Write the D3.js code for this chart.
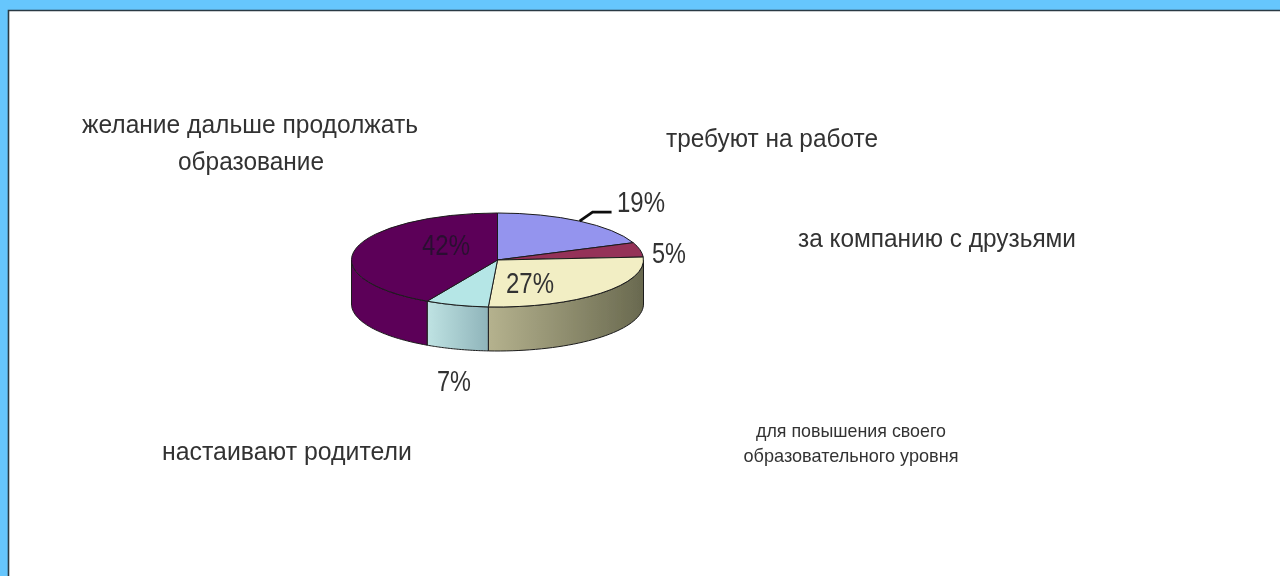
<!DOCTYPE html>
<html>
<head>
<meta charset="utf-8">
<script src="https://cdn.jsdelivr.net/npm/d3@7"></script>
<style>
  html, body { margin: 0; padding: 0; background: #fff; overflow: hidden; }
  text { font-family: "Liberation Sans", Arial, sans-serif; }
</style>
</head>
<body>
<svg id="chart" width="1280" height="576"></svg>
<script>
// data, clockwise from 12 o'clock
const categories = [
  "требуют на работе",
  "за компанию с друзьями",
  "для повышения своего образовательного уровня",
  "настаивают родители",
  "желание дальше продолжать образование"
];
const values = [19, 5, 27, 7, 42];

// colours of each slice: top face, wall gradient start and end
const topColors = ["#9494ee", "#953059", "#f2eec4", "#b5e6e6", "#5c0058"];
const wallFrom = ["#6f6fb0", "#6f2444", "#b5b28e", "#bfe3e3", "#5c0058"];
const wallTo = ["#6f6fb0", "#6f2444", "#69694f", "#8fb4ba", "#5c0058"];

// category captions, one entry per line
const captionLines = [
  [{ t: "требуют на работе", x: 772, y: 147, w: 212, s: 25.5 }],
  [{ t: "за компанию с друзьями", x: 937, y: 247, w: 278, s: 25.5 }],
  [{ t: "для повышения своего", x: 851, y: 437, w: 190, s: 19 },
   { t: "образовательного уровня", x: 851, y: 462, w: 215, s: 19 }],
  [{ t: "настаивают родители", x: 287, y: 460, w: 250, s: 25.5 }],
  [{ t: "желание дальше продолжать", x: 250, y: 133, w: 336, s: 25.5 },
   { t: "образование", x: 251, y: 170, w: 146, s: 25.5 }]
];
const pctPos = [[641, 212], [669, 263], [530, 293], [454, 391], [446, 255]];

const svg = d3.select("#chart");
const width = 1280, height = 576;

const defs = svg.append("defs");
const blur = defs.append("filter").attr("id", "soft");
blur.append("feGaussianBlur").attr("stdDeviation", 0.5);

// slide background + frame
svg.append("rect").attr("width", width).attr("height", height).attr("fill", "#66c6fd");
svg.append("rect").attr("x", 8).attr("y", 10).attr("width", width - 8).attr("height", height - 10)
  .attr("fill", "#fff");
svg.append("path").attr("d", "M8.5,576V10.5H1280")
  .attr("fill", "none").attr("stroke", "#2a3a44").attr("stroke-width", 1.6);

const cx = 497.5, cy = 260, rx = 146, ry = 47, depth = 44;

const pie = d3.pie().sort(null).value(d => d);
const slices = pie(values);

const chart = svg.append("g").attr("filter", "url(#soft)");

// point on the rim for a pie angle
const rim = (a, dy) => [cx + rx * Math.sin(a), cy - ry * Math.cos(a) + dy];

// gradients for the walls
slices.forEach((s, i) => {
  const g = defs.append("linearGradient").attr("id", "wall" + i)
    .attr("gradientUnits", "userSpaceOnUse")
    .attr("x1", rim(Math.min(s.endAngle, 1.5 * Math.PI), 0)[0]).attr("y1", 0)
    .attr("x2", rim(Math.max(s.startAngle, Math.PI / 2), 0)[0]).attr("y2", 0);
  g.append("stop").attr("offset", 0).attr("stop-color", wallFrom[i]);
  g.append("stop").attr("offset", 1).attr("stop-color", wallTo[i]);
});

// walls, only the front half shows
const edge = "#1c1c1c";
slices.forEach((s, i) => {
  const a0 = Math.max(s.startAngle, Math.PI / 2);
  const a1 = Math.min(s.endAngle, 1.5 * Math.PI);
  if (a1 <= a0) return;
  const steps = d3.range(0, 41).map(k => a0 + (a1 - a0) * k / 40);
  const pts = steps.map(a => rim(a, 0)).concat(steps.slice().reverse().map(a => rim(a, depth)));
  chart.append("path")
    .attr("d", d3.line()(pts) + "Z")
    .attr("fill", "url(#wall" + i + ")")
    .attr("stroke", edge).attr("stroke-width", 1);
});

// top faces
const arc = d3.arc().innerRadius(0).outerRadius(rx);
chart.append("g")
  .attr("transform", `translate(${cx},${cy}) scale(1,${ry / rx})`)
  .selectAll("path")
  .data(slices)
  .enter()
  .append("path")
  .attr("d", arc)
  .attr("fill", (d, i) => topColors[i])
  .attr("stroke", edge)
  .attr("stroke-width", 1)
  .attr("vector-effect", "non-scaling-stroke");

// leader line of the 19% label
const lead = rim(slices[0].startAngle + 0.5 * (slices[0].endAngle - slices[0].startAngle), 0);
chart.append("path")
  .attr("d", d3.line()([lead, [lead[0] + 13, lead[1] - 9], [lead[0] + 32, lead[1] - 9]]))
  .attr("fill", "none").attr("stroke", "#111").attr("stroke-width", 2.8);

// percent labels
chart.selectAll(".pct")
  .data(slices)
  .enter()
  .append("text")
  .attr("class", "pct")
  .attr("x", (d, i) => pctPos[i][0])
  .attr("y", (d, i) => pctPos[i][1])
  .attr("text-anchor", "middle")
  .attr("font-size", 29)
  .attr("fill", (d, i) => i === 4 ? "#2a1030" : "#333")
  .attr("textLength", d => d.value >= 10 ? 48 : 34)
  .attr("lengthAdjust", "spacingAndGlyphs")
  .text(d => d.value + "%");

// captions
const caps = svg.append("g").attr("filter", "url(#soft)");
captionLines.forEach(lines => lines.forEach(l => {
  caps.append("text")
    .attr("x", l.x).attr("y", l.y)
    .attr("text-anchor", "middle")
    .attr("font-size", l.s)
    .attr("fill", "#333")
    .attr("textLength", l.w)
    .attr("lengthAdjust", "spacingAndGlyphs")
    .text(l.t);
}));
</script>
</body>
</html>
